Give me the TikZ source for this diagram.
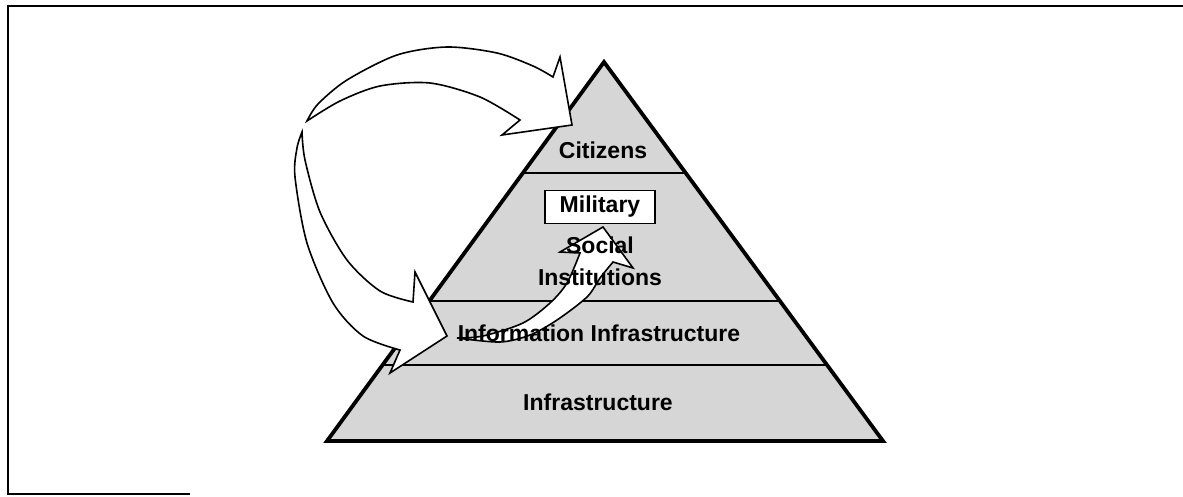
\documentclass[tikz,border=0pt]{standalone}
\usepackage{fontspec}
\setmainfont{Liberation Sans}
\usetikzlibrary{positioning}
\usetikzlibrary{calc}
\tikzset{layer/.style = {font = \bfseries\fontsize{23}{32}\selectfont, inner sep = 0}}
\tikzset{band/.style = {line width = 1.4}}
\tikzset{bigarrow/.style = {draw, fill = white, line width = 1.6, line join = miter}}

\begin{document}
\begin{tikzpicture}[x = 1pt, y = -1pt]
    \useasboundingbox (0, 0) rectangle (1183, 496);

    % outer frame
    \draw [line width = 2.2] (1183, 6) -- (8, 6) -- (8, 494) -- (190, 494);

    % pyramid and its layers
    \coordinate (apex) at (604, 62);
    \coordinate (bl) at (327, 441);
    \coordinate (br) at (883, 441);
    \fill [black!16] (apex) -- (br) -- (bl) -- cycle;
    \draw [band] ($(apex)!0.293!(bl)$) -- ($(apex)!0.293!(br)$);
    \draw [band] ($(apex)!0.631!(bl)$) -- ($(apex)!0.631!(br)$);
    \draw [band] ($(apex)!0.799!(bl)$) -- ($(apex)!0.799!(br)$);
    \draw [line width = 3.8, line join = miter] (apex) -- (br) -- (bl) -- cycle;

    % arrow into the top layer
    \draw [bigarrow] plot [smooth] coordinates {(307, 121) (318, 104) (347, 80) (397, 55) (447, 47) (497, 53) (533, 66) (553, 77)}
        -- (560, 57) -- (572, 125) -- (502, 135) -- (520, 120)
        -- plot [smooth] coordinates {(520, 120) (480, 97) (430, 83) (380, 86) (340, 101) (307, 121)} -- cycle;

    % arrow into the information layer
    \draw [bigarrow] plot [smooth] coordinates {(302, 132) (305, 160) (320, 212) (347, 260) (380, 291) (413, 302)}
        -- (415, 272) -- (447, 336) -- (390, 373) -- (400, 350)
        -- plot [smooth] coordinates {(400, 350) (363, 336) (333, 303) (307, 243) (295, 177) (297, 148) (302, 132)} -- cycle;

    % arrow from the information layer up to social institutions
    \draw [bigarrow] plot [smooth] coordinates {(457, 338) (500, 342) (530, 335) (557, 320) (587, 297) (600, 278) (613, 262)}
        -- (633, 268) -- (603, 227) -- (560, 252) -- (580, 253)
        -- plot [smooth] coordinates {(580, 253) (567, 283) (550, 303) (523, 323) (483, 336) (457, 338)} -- cycle;

    % labels
    \node [layer] (citizens) at (603, 150) {Citizens};
    \node [layer, draw, fill = white, line width = 1.6, minimum width = 110, minimum height = 33] (military) at (600, 207) {Military};
    \node [layer, align = center] (social) at (600, 261) {Social\\Institutions};
    \node [layer] (info) at (599, 333) {Information Infrastructure};
    \node [layer] (infra) at (598, 402) {Infrastructure};
\end{tikzpicture}
\end{document}
